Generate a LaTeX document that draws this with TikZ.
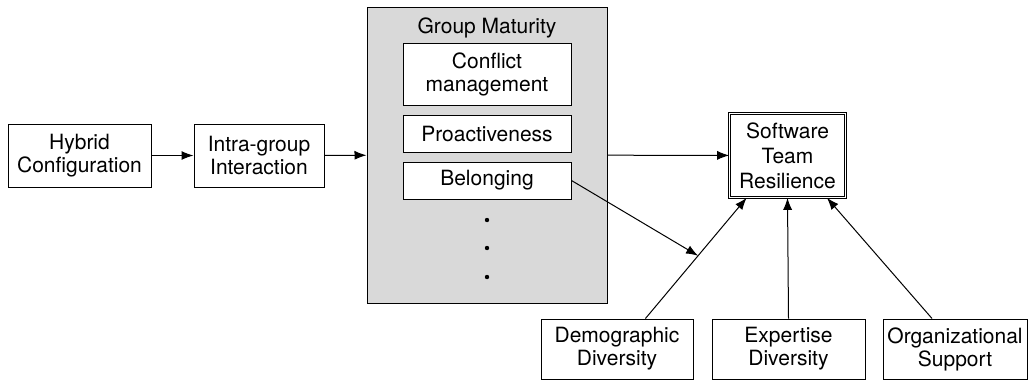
\documentclass[tikz,border=0pt]{standalone}
\usepackage{fontspec}
\setmainfont{TeX Gyre Heros}
\usetikzlibrary{arrows.meta,calc}

\tikzset{
  factor/.style={draw, line width=0.5pt, fill=white, inner sep=0pt, align=center,
    font=\fontsize{10.5}{11.5}\selectfont},
  link/.style={line width=0.5pt, -{Latex[length=6pt,width=4.5pt]}}
}

\begin{document}
\begin{tikzpicture}[x=0.5pt,y=-0.5pt]
   \useasboundingbox (0,0) rectangle (1028,381);

   % inputs on the left
   \node[factor, minimum width=71.5pt, minimum height=31.5pt] (hybrid) at (79.5,155.5) {Hybrid\\Configuration};
   \node[factor, minimum width=65pt, minimum height=31.5pt] (intra) at (259,155.5) {Intra-group\\Interaction};

   % group maturity and its parts
   \node[factor, fill=gray!30, minimum width=120pt, minimum height=148pt] (maturity) at (487,155) {};
   \node[font=\fontsize{10.5}{11.5}\selectfont] (title) at (487,28) {Group Maturity};
   \node[factor, minimum width=84pt, minimum height=31pt] (conflict) at (487,74) {Conflict\\management};
   \node[factor, minimum width=84pt, minimum height=18.5pt] (proact) at (487,133.5) {Proactiveness};
   \node[factor, minimum width=84pt, minimum height=18.5pt] (belong) at (487,180.5) {Belonging};
   \foreach \y/\n in {220/a,248/b,277/c}
     \fill (487,\y) circle (1.1pt) coordinate (dot\n);

   % outcome
   \node[factor, double, double distance=0.7pt, minimum width=57.8pt, minimum height=41.8pt,
     font=\fontsize{10.5}{12.5}\selectfont] (resil) at (787.5,155.5) {Software\\Team\\Resilience};

   % moderators
   \node[factor, minimum width=76pt, minimum height=30pt] (demo) at (617,349) {Demographic\\Diversity};
   \node[factor, minimum width=76.5pt, minimum height=30pt] (expert) at (788.5,349) {Expertise\\Diversity};
   \node[factor, minimum width=72pt, minimum height=30pt] (organ) at (955,349) {Organizational\\Support};

   \draw[link] (hybrid) -- (intra);
   \draw[link] (intra) -- (maturity);
   \draw[link] (maturity) -- (resil);
   \draw[link] (demo.47) -- (resil.226);
   \draw[link] (expert.north) -- (resil.south);
   \draw[link] (organ.127) -- (resil.313);
   \coordinate (mod) at ($(demo.47)!0.52!(resil.226)$);
   \draw[link] (belong.east) -- (mod);
\end{tikzpicture}
\end{document}
